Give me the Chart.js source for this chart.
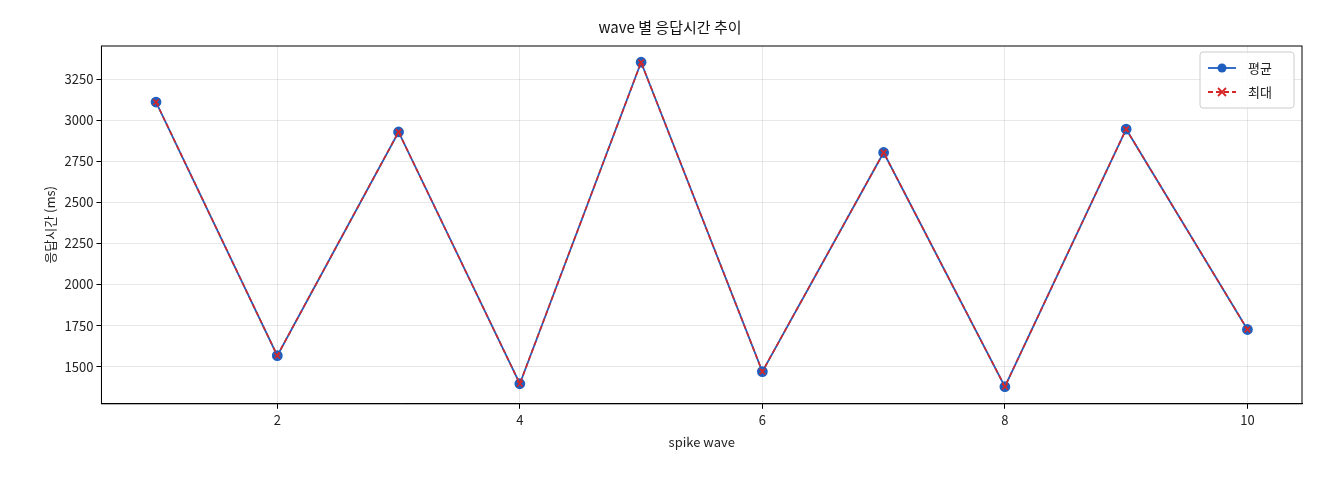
<!DOCTYPE html>
<html><head><meta charset="utf-8">
<script src="https://cdn.jsdelivr.net/npm/chart.js@4"></script>
<style>html,body{margin:0;background:#fff}#w{width:1320px;height:480px}</style>
</head><body><div id="w"><canvas id="c"></canvas></div>
<script>
const waves=[1,2,3,4,5,6,7,8,9,10];
const avgMs=[3110,1567,2928,1396,3352,1470,2803,1378,2945,1726];
const maxMs=[3110,1567,2928,1396,3352,1470,2803,1378,2945,1726];
const xTicks=[2,4,6,8,10];
const yTicks=[1500,1750,2000,2250,2500,2750,3000,3250];
const FONT='"Noto Sans CJK KR","Noto Sans",sans-serif';
Chart.defaults.font.family=FONT;Chart.defaults.color='#222';
const legendPlugin={id:'lg',afterDraw(ch){const c=ch.ctx,a=ch.chartArea;const w=94,h=56,x=a.right-w-8,y=a.top+6;
c.save();c.fillStyle='rgba(255,255,255,0.85)';c.strokeStyle='#ccc';c.lineWidth=1;c.beginPath();c.roundRect(x,y,w,h,3);c.fill();c.stroke();
const items=[['평균','#1f5fbf',[],'c'],['최대','#d62728',[5,3],'x']];
items.forEach((it,i)=>{const yy=y+16+i*24;c.strokeStyle=it[1];c.lineWidth=1.8;c.setLineDash(it[2]);c.beginPath();c.moveTo(x+8,yy);c.lineTo(x+36,yy);c.stroke();c.setLineDash([]);
if(it[3]=='c'){c.fillStyle=it[1];c.beginPath();c.arc(x+22,yy,4.5,0,7);c.fill();}else{c.beginPath();c.moveTo(x+18,yy-4);c.lineTo(x+26,yy+4);c.moveTo(x+26,yy-4);c.lineTo(x+18,yy+4);c.stroke();}
c.fillStyle='#222';c.font='13px '+FONT;c.textBaseline='middle';c.fillText(it[0],x+48,yy);});c.restore();}};
const frame={id:'fr',afterDraw(ch){const c=ch.ctx,a=ch.chartArea;c.save();c.strokeStyle='#000';c.lineWidth=1;c.strokeRect(a.left,a.top,a.right-a.left,a.bottom-a.top);c.restore();}};
new Chart(document.getElementById('c'),{type:'line',
data:{datasets:[
{label:'최대',data:waves.map((x,i)=>({x,y:maxMs[i]})),borderColor:'#d62728',backgroundColor:'#d62728',borderWidth:1.6,borderDash:[5,3],pointRadius:4,pointStyle:'crossRot',pointBorderWidth:1.6},
{label:'평균',data:waves.map((x,i)=>({x,y:avgMs[i]})),borderColor:'#1f5fbf',backgroundColor:'#1f5fbf',borderWidth:1.8,pointRadius:4.5,pointStyle:'circle'}]},
options:{animation:false,responsive:true,maintainAspectRatio:false,
layout:{padding:{left:38,right:18,top:8,bottom:26}},
plugins:{legend:{display:false},tooltip:{enabled:false},title:{display:true,text:'wave 별 응답시간 추이',font:{size:15,weight:'normal'},color:'#111',padding:{top:10,bottom:10}}},
scales:{x:{type:'linear',min:0.55,max:10.45,afterBuildTicks(s){s.ticks=xTicks.map(v=>({value:v}))},
grid:{color:'rgba(0,0,0,0.09)',drawTicks:true,tickLength:5,tickColor:'#000'},border:{color:'#000'},ticks:{font:{size:13},color:'#222',callback:v=>String(v)},
title:{display:true,text:'spike wave',font:{size:13},color:'#222'}},
y:{min:1274,max:3451,afterBuildTicks(s){s.ticks=yTicks.map(v=>({value:v}))},
grid:{color:'rgba(0,0,0,0.09)',tickLength:5,tickColor:'#000'},border:{color:'#000'},ticks:{font:{size:13},color:'#222',callback:v=>String(v)},
title:{display:true,text:'응답시간 (ms)',font:{size:13},color:'#222'}}}},
plugins:[legendPlugin,frame]});
</script></body></html>
